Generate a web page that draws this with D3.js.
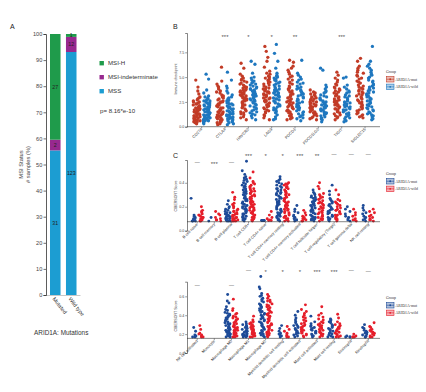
<!DOCTYPE html>
<html><head><meta charset="utf-8">
<script src="https://cdn.jsdelivr.net/npm/d3@7/dist/d3.min.js"></script>
<style>body{margin:0;background:#fff}svg{display:block}</style>
</head><body>
<svg id="c" width="426" height="392"></svg>
<script>
// ---------- Panel A data ----------
const categoriesA = ["Mutated", "Wild type"];
const statusNames = ["MSS", "MSI-indeterminate", "MSI-H"];
const mssPct = [55.4, 93.1];
const indetPct = [4.1, 5.8];
const msihPct = [40.5, 1.1];
const mssN = [31, 123];
const indetN = [2, 12];
const msihN = [27, 1];
const ticksA = [0,10,20,30,40,50,60,70,80,90,100];

// ---------- Panel B data ----------
const genesB = ["CD274","CTLA4","HAVCR2","LAG3","PDCD1","PDCD1LG2","TIGIT","SIGLEC15"];
const sigB = ["","***","*","*","**","","***",""];
const ticksB = [0, 2.5, 5, 7.5];
const bMut = [
 [4.7,4.0,3.6,3.3,3.0,2.9,2.8,2.7,2.6,2.5,2.5,2.4,2.3,2.3,2.2,2.1,2.1,2.0,2.0,1.9,1.9,1.8,1.8,1.7,1.7,1.6,1.6,1.5,1.5,1.5,1.4,1.4,1.3,1.3,1.3,1.2,1.2,1.1,1.1,1.0,1.0,0.9,0.9,0.8,0.8,0.7,0.7,0.6,0.6,0.5,0.5,0.4,0.3],
 [6.0,4.6,4.3,4.1,4.0,3.8,3.6,3.5,3.4,3.2,3.1,3.0,2.9,2.8,2.7,2.6,2.5,2.5,2.4,2.3,2.2,2.2,2.1,2.0,1.9,1.9,1.8,1.7,1.7,1.6,1.5,1.5,1.4,1.4,1.3,1.2,1.2,1.1,1.0,1.0,0.9,0.9,0.8,0.7,0.7,0.6,0.5,0.5,0.4,0.3,0.2],
 [6.4,5.9,5.3,5.1,4.9,4.8,4.7,4.6,4.5,4.4,4.3,4.2,4.1,4.0,4.0,3.9,3.8,3.7,3.7,3.6,3.5,3.5,3.4,3.3,3.3,3.2,3.1,3.1,3.0,2.9,2.9,2.8,2.7,2.7,2.6,2.5,2.5,2.4,2.3,2.2,2.1,2.0,1.9,1.8,1.7,1.6,1.5,1.4,1.3,1.2,1.0,0.9,0.7],
 [8.1,7.6,7.0,6.6,6.0,5.6,5.4,5.3,5.1,5.0,4.9,4.8,4.7,4.6,4.5,4.4,4.3,4.2,4.1,4.0,3.9,3.8,3.8,3.7,3.6,3.5,3.5,3.4,3.3,3.2,3.2,3.1,3.0,2.9,2.9,2.8,2.7,2.6,2.6,2.5,2.4,2.3,2.2,2.1,2.0,1.9,1.8,1.7,1.6,1.5,1.4,1.2,1.1,0.9,0.7],
 [6.7,6.5,6.1,5.9,5.7,5.5,5.3,5.1,5.0,4.8,4.7,4.5,4.4,4.3,4.1,4.0,3.9,3.8,3.7,3.6,3.5,3.4,3.3,3.2,3.1,3.0,2.9,2.8,2.7,2.6,2.5,2.5,2.4,2.3,2.2,2.1,2.0,2.0,1.9,1.8,1.7,1.6,1.6,1.5,1.4,1.3,1.2,1.1,1.0,0.9,0.8,0.7],
 [3.7,3.5,3.4,3.3,3.2,3.1,3.0,2.9,2.8,2.8,2.7,2.6,2.5,2.5,2.4,2.3,2.3,2.2,2.1,2.1,2.0,1.9,1.9,1.8,1.7,1.7,1.6,1.5,1.5,1.4,1.3,1.3,1.2,1.1,1.0,0.9,0.8,0.7],
 [5.5,5.2,4.9,4.7,4.5,4.3,4.2,4.0,3.9,3.8,3.7,3.6,3.5,3.4,3.3,3.2,3.1,3.0,2.9,2.8,2.7,2.6,2.6,2.5,2.4,2.3,2.2,2.2,2.1,2.0,1.9,1.8,1.8,1.7,1.6,1.5,1.4,1.3,1.2,1.1,1.0,0.9,0.7],
 [6.9,6.6,6.1,5.9,5.7,5.5,5.4,5.2,5.1,4.9,4.8,4.6,4.5,4.4,4.2,4.1,4.0,3.9,3.8,3.7,3.6,3.5,3.4,3.3,3.2,3.1,3.0,2.9,2.8,2.7,2.6,2.5,2.4,2.3,2.2,2.1,2.0,1.9,1.8,1.7,1.6,1.5,1.4,1.3,1.2,1.1,1.0,0.9]
];
const bWild = [
 [5.3,4.8,3.7,3.4,3.1,3.0,2.9,2.8,2.7,2.6,2.6,2.5,2.4,2.4,2.3,2.2,2.2,2.1,2.0,2.0,1.9,1.9,1.8,1.8,1.7,1.7,1.6,1.6,1.5,1.5,1.4,1.4,1.3,1.3,1.2,1.2,1.1,1.1,1.0,1.0,0.9,0.9,0.8,0.8,0.7,0.7,0.6,0.6,0.5,0.4,0.3],
 [5.5,4.7,4.1,3.9,3.6,3.4,3.2,3.0,2.9,2.8,2.7,2.6,2.5,2.4,2.3,2.3,2.2,2.1,2.0,2.0,1.9,1.8,1.8,1.7,1.6,1.6,1.5,1.5,1.4,1.3,1.3,1.2,1.2,1.1,1.0,1.0,0.9,0.9,0.8,0.8,0.7,0.6,0.6,0.5,0.4,0.3,0.2],
 [6.6,6.3,5.4,5.0,4.9,4.7,4.6,4.5,4.4,4.3,4.2,4.1,4.0,3.9,3.8,3.8,3.7,3.6,3.5,3.5,3.4,3.3,3.3,3.2,3.1,3.1,3.0,2.9,2.9,2.8,2.7,2.7,2.6,2.5,2.4,2.3,2.2,2.1,2.0,1.9,1.8,1.7,1.6,1.5,1.4,1.3,1.2,1.1,0.9,0.7],
 [8.3,7.4,6.6,5.9,5.4,5.2,5.1,5.0,4.9,4.8,4.7,4.6,4.5,4.4,4.3,4.2,4.1,4.0,3.9,3.8,3.7,3.7,3.6,3.5,3.4,3.4,3.3,3.2,3.1,3.1,3.0,2.9,2.8,2.8,2.7,2.6,2.5,2.4,2.3,2.2,2.1,2.0,1.9,1.8,1.7,1.6,1.5,1.4,1.2,1.0,0.8,0.7],
 [6.7,5.4,5.2,5.0,4.8,4.7,4.5,4.4,4.3,4.1,4.0,3.9,3.8,3.7,3.6,3.5,3.4,3.3,3.2,3.1,3.0,2.9,2.8,2.7,2.6,2.5,2.4,2.3,2.3,2.2,2.1,2.0,1.9,1.9,1.8,1.7,1.6,1.5,1.4,1.3,1.2,1.1,1.0,0.9,0.8,0.6],
 [5.9,5.7,4.2,4.0,3.8,3.6,3.5,3.4,3.2,3.1,3.0,2.9,2.8,2.7,2.6,2.5,2.5,2.4,2.3,2.2,2.2,2.1,2.0,1.9,1.9,1.8,1.7,1.7,1.6,1.5,1.4,1.4,1.3,1.2,1.1,1.0,0.9,0.8,0.7,0.5],
 [5.0,4.9,4.2,4.0,3.8,3.6,3.5,3.4,3.2,3.1,3.0,2.9,2.8,2.7,2.6,2.5,2.4,2.4,2.3,2.2,2.1,2.0,2.0,1.9,1.8,1.7,1.7,1.6,1.5,1.4,1.3,1.2,1.1,1.0,0.9,0.8,0.6,0.5],
 [8.1,6.6,6.3,6.1,5.9,5.7,5.5,5.3,5.2,5.0,4.9,4.7,4.6,4.5,4.3,4.2,4.1,4.0,3.9,3.8,3.7,3.6,3.5,3.4,3.3,3.2,3.1,3.0,2.9,2.8,2.7,2.6,2.5,2.4,2.3,2.2,2.1,2.0,1.9,1.8,1.7,1.6,1.5,1.4,1.3,1.2,1.1,1.0,0.8,0.7]
];

// ---------- Panel C data ----------
const groupNames = ["ARID1A-mut", "ARID1A-wild"];
const cellsTop = ["B cell naive","B cell memory","B cell plasma","T cell CD8+","T cell CD4+ naive","T cell CD4+ memory resting","T cell CD4+ memory activated","T cell follicular helper","T cell regulatory (Tregs)","T cell gamma delta","NK cell resting"];
const sigTop = ["—","***","—","***","*","*","***","**","—","—","—"];
const sigTopLevel = [0.57,0.57,0.57,0.635,0.635,0.635,0.635,0.635,0.635,0.635,0.635];
const ticksC1 = [0, 0.2, 0.4];
const cTopMut = [
 [0.27,0.13,0.12,0.11,0.1,0.1,0.09,0.09,0.08,0.08,0.08],
 [0.11,0.08],
 [0.25,0.22,0.2,0.19,0.18,0.17,0.16,0.15,0.15,0.14,0.13,0.13,0.12,0.12,0.11,0.11,0.1,0.1,0.1,0.09,0.09,0.09,0.08,0.08,0.08],
 [0.58,0.5,0.47,0.45,0.44,0.43,0.42,0.41,0.4,0.39,0.38,0.37,0.37,0.36,0.35,0.34,0.34,0.33,0.32,0.32,0.31,0.3,0.3,0.29,0.28,0.28,0.27,0.26,0.26,0.25,0.25,0.24,0.23,0.23,0.22,0.22,0.21,0.2,0.2,0.19,0.18,0.18,0.17,0.16,0.16,0.15,0.14,0.14,0.13,0.12,0.12,0.11,0.1,0.1,0.09,0.08],
 [0.085,0.085,0.085,0.085,0.085,0.085,0.085],
 [0.45,0.43,0.42,0.41,0.4,0.39,0.38,0.37,0.36,0.35,0.35,0.34,0.33,0.32,0.31,0.31,0.3,0.29,0.28,0.27,0.27,0.26,0.25,0.24,0.24,0.23,0.22,0.21,0.21,0.2,0.19,0.18,0.18,0.17,0.16,0.15,0.15,0.14,0.13,0.12,0.12,0.11,0.1,0.09,0.09,0.08],
 [0.21,0.18,0.16,0.15,0.13,0.12,0.11,0.1,0.09,0.09,0.08],
 [0.34,0.32,0.31,0.3,0.29,0.28,0.28,0.27,0.26,0.25,0.25,0.24,0.23,0.23,0.22,0.21,0.21,0.2,0.19,0.19,0.18,0.17,0.17,0.16,0.15,0.15,0.14,0.13,0.13,0.12,0.11,0.11,0.1,0.1,0.09,0.09,0.08],
 [0.38,0.33,0.3,0.27,0.26,0.25,0.24,0.23,0.22,0.21,0.2,0.19,0.18,0.18,0.17,0.16,0.15,0.15,0.14,0.13,0.12,0.12,0.11,0.1,0.1,0.09,0.08],
 [0.2,0.18,0.16,0.14,0.12,0.11,0.1,0.09,0.08],
 [0.21,0.19,0.17,0.15,0.14,0.12,0.11,0.1,0.09,0.08]
];
const cTopWild = [
 [0.2,0.17,0.16,0.15,0.14,0.13,0.13,0.12,0.11,0.11,0.1,0.1,0.09,0.09,0.08,0.08],
 [0.16,0.14,0.13,0.11,0.1,0.09,0.09,0.08],
 [0.32,0.28,0.26,0.23,0.22,0.21,0.2,0.19,0.18,0.17,0.16,0.16,0.15,0.14,0.14,0.13,0.13,0.12,0.12,0.11,0.11,0.1,0.1,0.1,0.09,0.09,0.09,0.08,0.08,0.08],
 [0.49,0.44,0.41,0.4,0.39,0.38,0.37,0.36,0.35,0.35,0.34,0.33,0.33,0.32,0.31,0.31,0.3,0.29,0.29,0.28,0.27,0.27,0.26,0.25,0.25,0.24,0.24,0.23,0.22,0.22,0.21,0.2,0.2,0.19,0.19,0.18,0.17,0.17,0.16,0.15,0.15,0.14,0.13,0.13,0.12,0.11,0.11,0.1,0.09,0.09,0.08],
 [0.16,0.13,0.11,0.1,0.09,0.085,0.085],
 [0.4,0.39,0.39,0.38,0.37,0.36,0.36,0.35,0.34,0.33,0.33,0.32,0.31,0.3,0.3,0.29,0.28,0.27,0.27,0.26,0.25,0.24,0.24,0.23,0.22,0.21,0.21,0.2,0.19,0.18,0.18,0.17,0.16,0.15,0.15,0.14,0.13,0.12,0.12,0.11,0.1,0.1,0.09,0.08,0.08],
 [0.17,0.15,0.13,0.12,0.11,0.1,0.1,0.09,0.08,0.08],
 [0.4,0.37,0.35,0.31,0.3,0.29,0.28,0.27,0.26,0.25,0.24,0.23,0.23,0.22,0.21,0.2,0.19,0.19,0.18,0.17,0.16,0.15,0.15,0.14,0.13,0.12,0.12,0.11,0.1,0.1,0.09,0.08],
 [0.34,0.3,0.26,0.25,0.24,0.23,0.22,0.21,0.2,0.19,0.18,0.17,0.17,0.16,0.15,0.14,0.13,0.13,0.12,0.11,0.1,0.1,0.09,0.08],
 [0.18,0.15,0.13,0.12,0.1,0.09,0.09,0.08],
 [0.18,0.16,0.15,0.13,0.12,0.11,0.1,0.09,0.09,0.08]
];
const cellsBottom = ["NK cell activated","Monocyte","Macrophage M0","Macrophage M1","Macrophage M2","Myeloid dendritic cell resting","Myeloid dendritic cell activated","Mast cell activated","Mast cell resting","Eosinophil","Neutrophil"];
const sigBottom = ["—","","—","—","*","*","*","***","***","—","—"];
const sigBottomLevel = [0.72,0.72,0.72,0.87,0.875,0.875,0.875,0.875,0.875,0.87,0.86];
const ticksC2 = [0, 0.2, 0.4, 0.6];
const cBotMut = [
 [0.27,0.23,0.19,0.18,0.17,0.17],
 [],
 [0.62,0.55,0.53,0.49,0.46,0.45,0.43,0.42,0.41,0.4,0.39,0.38,0.37,0.36,0.35,0.34,0.33,0.32,0.31,0.31,0.3,0.29,0.28,0.27,0.27,0.26,0.25,0.24,0.24,0.23,0.22,0.22,0.21,0.2,0.2,0.19,0.18,0.18,0.17,0.17],
 [0.33,0.31,0.3,0.29,0.28,0.27,0.26,0.25,0.24,0.23,0.23,0.22,0.21,0.2,0.2,0.19,0.19,0.18,0.18,0.17,0.17],
 [0.81,0.7,0.68,0.63,0.61,0.6,0.58,0.57,0.55,0.54,0.52,0.51,0.5,0.49,0.48,0.47,0.46,0.45,0.44,0.43,0.42,0.41,0.4,0.39,0.38,0.37,0.36,0.35,0.34,0.33,0.32,0.31,0.3,0.29,0.28,0.27,0.26,0.25,0.24,0.23,0.22,0.21,0.2,0.19,0.18,0.17],
 [0.29,0.26,0.23,0.21,0.2,0.19,0.18,0.17],
 [0.44,0.4,0.37,0.35,0.33,0.32,0.3,0.29,0.28,0.27,0.26,0.25,0.24,0.23,0.22,0.21,0.2,0.19,0.18,0.17],
 [0.39,0.33,0.31,0.29,0.28,0.27,0.26,0.25,0.24,0.23,0.22,0.21,0.2,0.19,0.18,0.17],
 [0.36,0.35,0.34,0.33,0.32,0.3,0.29,0.28,0.27,0.26,0.25,0.24,0.23,0.22,0.21,0.2,0.19,0.18,0.17,0.17],
 [0.18,0.17,0.17,0.17],
 [0.3,0.27,0.26,0.24,0.23,0.22,0.21,0.2,0.19,0.18,0.17,0.17]
];
const cBotWild = [
 [0.29,0.25,0.21,0.2,0.19,0.18,0.17,0.17],
 [],
 [0.57,0.47,0.45,0.42,0.41,0.39,0.38,0.37,0.36,0.35,0.34,0.33,0.32,0.31,0.3,0.29,0.28,0.27,0.27,0.26,0.25,0.24,0.24,0.23,0.22,0.22,0.21,0.2,0.2,0.19,0.18,0.18,0.17,0.17],
 [0.39,0.35,0.33,0.32,0.31,0.3,0.29,0.28,0.27,0.26,0.25,0.25,0.24,0.23,0.22,0.22,0.21,0.2,0.2,0.19,0.18,0.18,0.17,0.17],
 [0.62,0.6,0.58,0.56,0.55,0.54,0.52,0.51,0.5,0.49,0.48,0.47,0.46,0.45,0.44,0.43,0.42,0.41,0.4,0.39,0.38,0.37,0.36,0.35,0.34,0.33,0.32,0.31,0.3,0.29,0.28,0.27,0.26,0.25,0.24,0.23,0.22,0.21,0.2,0.19,0.18,0.17],
 [0.28,0.25,0.23,0.21,0.19,0.18,0.17,0.17],
 [0.51,0.46,0.44,0.42,0.4,0.38,0.37,0.35,0.34,0.32,0.31,0.3,0.29,0.28,0.27,0.26,0.25,0.24,0.23,0.22,0.21,0.2,0.19,0.18,0.17],
 [0.49,0.42,0.4,0.38,0.36,0.35,0.33,0.32,0.31,0.3,0.29,0.28,0.27,0.26,0.25,0.24,0.23,0.22,0.21,0.2,0.19,0.18,0.17],
 [0.41,0.37,0.33,0.31,0.3,0.29,0.28,0.27,0.26,0.25,0.24,0.23,0.22,0.21,0.2,0.19,0.18,0.17,0.17],
 [0.2,0.18,0.17,0.17,0.17],
 [0.32,0.28,0.27,0.25,0.24,0.23,0.22,0.21,0.2,0.19,0.18,0.17,0.17]
];

// ---------- drawing ----------
const svg = d3.select("#c");
const SANS = "'Liberation Sans', Arial, sans-serif";
const SERIF = "'Liberation Serif', 'Times New Roman', serif";
const colA = {"MSS":"#1c9dd2","MSI-indeterminate":"#97298f","MSI-H":"#1f9b4b"};
const colB = ["#c23b26", "#1e77bf"];
const colC = ["#1e4b98", "#e51e2a"];

function txt(g, x, y, s, size, opts = {}) {
  return g.append("text").attr("x", x).attr("y", y).text(s)
    .attr("font-family", opts.family || SANS).attr("font-size", size)
    .attr("fill", opts.fill || "#222").attr("text-anchor", opts.anchor || "start");
}

// ===== Panel A =====
const gA = svg.append("g");
txt(gA, 10, 29, "A", 7);
const xA = d3.scaleBand().domain(categoriesA).range([46, 80.5]).paddingInner(0.34).paddingOuter(0.25);
const yA = d3.scaleLinear().domain([0, 100]).range([295, 34]);
const rowsA = categoriesA.map((c, i) => ({cat: c, "MSS": mssPct[i], "MSI-indeterminate": indetPct[i], "MSI-H": msihPct[i],
  n: {"MSS": mssN[i], "MSI-indeterminate": indetN[i], "MSI-H": msihN[i]}}));
const stackA = d3.stack().keys(statusNames)(rowsA);
stackA.forEach(layer => {
  gA.selectAll(null).data(layer).enter().append("rect")
    .attr("x", d => xA(d.data.cat)).attr("width", xA.bandwidth())
    .attr("y", d => yA(d[1])).attr("height", d => yA(d[0]) - yA(d[1]))
    .attr("fill", colA[layer.key]);
});
stackA.forEach(layer => {
  gA.selectAll(null).data(layer).enter().append("text")
    .attr("x", d => xA(d.data.cat) + xA.bandwidth() / 2)
    .attr("y", d => yA((d[0] + d[1]) / 2) + 1.8)
    .attr("text-anchor", "middle").attr("font-family", SANS).attr("font-size", 5.2)
    .attr("fill", "#222").text(d => d.data.n[layer.key]);
});
gA.append("line").attr("x1", 46).attr("x2", 80.5).attr("y1", yA(0) + 0.5).attr("y2", yA(0) + 0.5)
  .attr("stroke", "#c8c8c8").attr("stroke-width", 1);
const axA = gA.append("g").attr("transform", "translate(46,0)")
  .call(d3.axisLeft(yA).tickValues(ticksA).tickSize(2.5).tickPadding(1.2));
axA.select(".domain").attr("stroke", "#333").attr("stroke-width", 0.8);
axA.selectAll(".tick line").attr("stroke", "#333").attr("stroke-width", 0.7);
axA.selectAll("text").attr("font-family", SANS).attr("font-size", 5.6).attr("fill", "#444");
categoriesA.forEach(c => {
  const cx = xA(c) + xA.bandwidth() / 2 - 3;
  gA.append("text").attr("transform", `translate(${cx},${299}) rotate(52)`)
    .attr("font-family", SANS).attr("font-size", 5.4).attr("fill", "#333").text(c);
});
gA.append("text").attr("transform", "translate(23,164.5) rotate(-90)").attr("text-anchor", "middle")
  .attr("font-family", SANS).attr("font-size", 5.8).attr("fill", "#444").text("MSI Status");
gA.append("text").attr("transform", "translate(30,164.5) rotate(-90)").attr("text-anchor", "middle")
  .attr("font-family", SANS).attr("font-size", 5.8).attr("fill", "#444").text("# samples (%)");
txt(gA, 34, 334.5, "ARID1A: Mutations", 6.4, {fill: "#333"});
["MSI-H", "MSI-indeterminate", "MSS"].forEach((k, i) => {
  gA.append("rect").attr("x", 99.5).attr("y", 61 + i * 14).attr("width", 4.4).attr("height", 4.4).attr("fill", colA[k]);
  txt(gA, 108, 65.3 + i * 14, k, 6.1, {fill: "#333"});
});
txt(gA, 100, 112.5, "p= 8.16*e-10", 6.1, {fill: "#333"});

// ===== helpers for strip panels =====
// deterministic scrambled horizontal jitter (position only, not data)
function jitterX(i, seed, half) {
  let h = Math.imul((i + 1) ^ Math.imul(seed + 7, 0x9e3779b9), 0x85ebca6b);
  h ^= h >>> 13; h = Math.imul(h, 0xc2b2ae35); h ^= h >>> 16;
  return ((h >>> 0) / 4294967296 - 0.5) * 2 * half;
}

function stripPanel(opt) {
  const g = svg.append("g");
  const x = d3.scaleBand().domain(opt.cats).range(opt.xr);
  const y = d3.scaleLinear().domain(opt.ydom).range(opt.yr);
  [[opt.mut, -opt.off, opt.cols[0], 0], [opt.wild, opt.off, opt.cols[1], 1]].forEach(([arr, o, col, gi]) => {
    opt.cats.forEach((c, ci) => {
      g.selectAll(null).data(arr[ci]).enter().append("circle")
        .attr("cx", (d, i) => x(c) + x.bandwidth() / 2 + o + jitterX(i, ci * 2 + gi + opt.seed, opt.jit))
        .attr("cy", d => y(d)).attr("r", opt.r).attr("fill", col);
    });
  });
  const ay = g.append("g").attr("transform", `translate(${opt.axX},0)`)
    .call(d3.axisLeft(y).tickValues(opt.ticks).tickFormat(d3.format(".1f")).tickSize(1.8).tickPadding(1));
  ay.select(".domain").attr("stroke", "#333").attr("stroke-width", 0.6);
  ay.selectAll(".tick line").attr("stroke", "#333").attr("stroke-width", 0.5);
  ay.selectAll("text").attr("font-family", SANS).attr("font-size", 3.6).attr("fill", "#444");
  const yx = y(opt.xAxisAt);
  g.append("line").attr("x1", opt.axX).attr("x2", 380).attr("y1", yx).attr("y2", yx)
    .attr("stroke", "#333").attr("stroke-width", 0.6);
  opt.cats.forEach(c => {
    const cx = x(c) + x.bandwidth() / 2;
    g.append("line").attr("x1", cx).attr("x2", cx).attr("y1", yx).attr("y2", yx + 1.8)
      .attr("stroke", "#333").attr("stroke-width", 0.5);
    g.append("text").attr("transform", `translate(${cx + 1},${yx + 3}) rotate(-45)`)
      .attr("text-anchor", "end").attr("font-family", SANS).attr("font-size", opt.xfs)
      .attr("fill", "#333").text(c);
  });
  opt.cats.forEach((c, ci) => {
    if (!opt.sig[ci]) return;
    const cx = x(c) + x.bandwidth() / 2;
    const yy = opt.sigLevel ? y(opt.sigLevel[ci]) : opt.sigY;
    const isDash = opt.sig[ci] === "—";
    g.append("text").attr("x", cx).attr("y", yy + (isDash ? 1.6 : 3.2)).attr("text-anchor", "middle")
      .attr("font-family", SANS).attr("font-size", isDash ? 5 : 6).attr("fill", "#555").text(opt.sig[ci]);
  });
  g.append("text").attr("transform", `translate(${opt.titleX},${opt.titleY}) rotate(-90)`)
    .attr("text-anchor", "middle").attr("font-family", SANS).attr("font-size", 3.6)
    .attr("fill", "#333").text(opt.title);
  if (opt.letter) txt(g, opt.letterX, opt.letterY, opt.letter, 7);
  const L = opt.legY;
  txt(g, 386, L, "Group", 3.9, {family: SERIF, fill: "#333"});
  groupNames.forEach((nm, i) => {
    const yy = L + 3.5 + i * 7.6;
    const col = opt.cols[i];
    g.append("rect").attr("x", 386.5).attr("y", yy).attr("width", 7.5).attr("height", 5.5)
      .attr("fill", col).attr("fill-opacity", 0.35).attr("stroke", col).attr("stroke-width", 0.6);
    g.append("line").attr("x1", 386.5).attr("x2", 394).attr("y1", yy + 2.75).attr("y2", yy + 2.75)
      .attr("stroke", col).attr("stroke-width", 0.6);
    g.append("circle").attr("cx", 390.2).attr("cy", yy + 2.75).attr("r", 0.9).attr("fill", col);
    txt(g, 395.5, yy + 4.2, nm, 3.9, {family: SERIF, fill: "#333"});
  });
}

// ===== Panel B =====
stripPanel({cats: genesB, mut: bMut, wild: bWild, xr: [190, 376.7], ydom: [0, 9.45], yr: [126.7, 33],
  off: 5, jit: 3.5, r: 1.65, seed: 0, cols: colB, axX: 187, ticks: ticksB, xAxisAt: 0, xfs: 4,
  sig: sigB, sigY: 35.5, title: "Immune checkpoint", titleX: 176.5, titleY: 79,
  letter: "B", letterX: 173, letterY: 29, legY: 73});

// ===== Panel C top =====
stripPanel({cats: cellsTop, mut: cTopMut, wild: cTopWild, xr: [188.6, 376.9], ydom: [0, 0.59], yr: [230.7, 160],
  off: 3.8, jit: 2.7, r: 1.45, seed: 40, cols: colC, axX: 187, ticks: ticksC1, xAxisAt: 0.075, xfs: 3.9,
  sig: sigTop, sigLevel: sigTopLevel, title: "CIBERSORT Score", titleX: 176.5, titleY: 196,
  letter: "C", letterX: 173, letterY: 158, legY: 175});

// ===== Panel C bottom =====
stripPanel({cats: cellsBottom, mut: cBotMut, wild: cBotWild, xr: [188.6, 376.9], ydom: [0, 0.755], yr: [353, 281.7],
  off: 3.8, jit: 2.7, r: 1.45, seed: 80, cols: colC, axX: 187, ticks: ticksC2, xAxisAt: 0.155, xfs: 3.9,
  sig: sigBottom, sigLevel: sigBottomLevel, title: "CIBERSORT Score", titleX: 176.5, titleY: 316,
  letter: "", letterX: 0, letterY: 0, legY: 299});
</script>
</body></html>
